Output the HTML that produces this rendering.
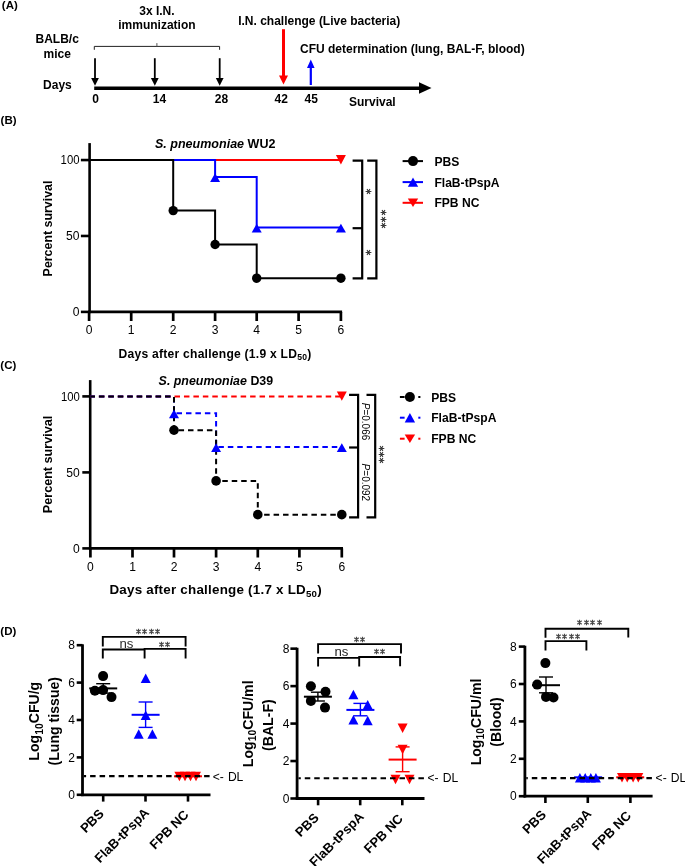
<!DOCTYPE html><html><head><meta charset="utf-8"><style>
html,body{margin:0;padding:0;background:#fff;overflow:hidden;}
svg{display:block;font-family:"Liberation Sans", sans-serif;will-change:transform;}
</style></head><body>
<svg width="685" height="866" viewBox="0 0 685 866">
<rect width="685" height="866" fill="#fff"/>
<text x="1.80" y="8.80" font-size="11.5" font-weight="bold" text-anchor="start" fill="#000000" >(A)</text>
<text x="57.20" y="43.00" font-size="12" font-weight="bold" text-anchor="middle" fill="#000000" >BALB/c</text>
<text x="57.20" y="57.70" font-size="12" font-weight="bold" text-anchor="middle" fill="#000000" >mice</text>
<text x="57.40" y="89.30" font-size="12" font-weight="bold" text-anchor="middle" fill="#000000" >Days</text>
<text x="156.90" y="14.50" font-size="12" font-weight="bold" text-anchor="middle" fill="#000000" >3x I.N.</text>
<text x="156.90" y="28.50" font-size="12" font-weight="bold" text-anchor="middle" fill="#000000" >immunization</text>
<polyline points="94.30,49.80 94.30,46.40 219.60,46.40 219.60,49.80" fill="none" stroke="#222" stroke-width="1.0" />
<line x1="156.90" y1="46.40" x2="156.90" y2="43.10" stroke="#555" stroke-width="1.0" />
<line x1="95.00" y1="58.20" x2="95.00" y2="78.50" stroke="#000000" stroke-width="1.8" />
<polygon points="91.10,78.00 98.90,78.00 95.00,85.80" fill="#000000"/>
<line x1="154.80" y1="58.20" x2="154.80" y2="78.50" stroke="#000000" stroke-width="1.8" />
<polygon points="150.90,78.00 158.70,78.00 154.80,85.80" fill="#000000"/>
<line x1="219.70" y1="58.20" x2="219.70" y2="78.50" stroke="#000000" stroke-width="1.8" />
<polygon points="215.80,78.00 223.60,78.00 219.70,85.80" fill="#000000"/>
<line x1="94.20" y1="88.30" x2="420.00" y2="88.30" stroke="#000000" stroke-width="3.5" />
<polygon points="419,82.2 431.5,88 419,93.8" fill="#000"/>
<line x1="283.50" y1="29.20" x2="283.50" y2="76.10" stroke="#ff0000" stroke-width="3" />
<polygon points="279.00,75.60 288.00,75.60 283.50,84.60" fill="#ff0000"/>
<line x1="310.80" y1="85.00" x2="310.80" y2="67.50" stroke="#0000ff" stroke-width="2.2" />
<polygon points="307.00,68.00 314.60,68.00 310.80,59.40" fill="#0000ff"/>
<text x="238.20" y="25.20" font-size="12" font-weight="bold" text-anchor="start" fill="#000000" >I.N. challenge (Live bacteria)</text>
<text x="300.00" y="52.60" font-size="12" font-weight="bold" text-anchor="start" fill="#000000" >CFU determination (lung, BAL-F, blood)</text>
<text x="95.70" y="102.80" font-size="12" font-weight="bold" text-anchor="middle" fill="#000000" >0</text>
<text x="159.50" y="102.80" font-size="12" font-weight="bold" text-anchor="middle" fill="#000000" >14</text>
<text x="221.50" y="102.80" font-size="12" font-weight="bold" text-anchor="middle" fill="#000000" >28</text>
<text x="281.20" y="102.80" font-size="12" font-weight="bold" text-anchor="middle" fill="#000000" >42</text>
<text x="311.20" y="102.80" font-size="12" font-weight="bold" text-anchor="middle" fill="#000000" >45</text>
<text x="349.00" y="105.60" font-size="12" font-weight="bold" text-anchor="start" fill="#000000" >Survival</text>
<text x="0.60" y="123.80" font-size="11.5" font-weight="bold" text-anchor="start" fill="#000000" >(B)</text>
<line x1="89.60" y1="143.10" x2="89.60" y2="313.20" stroke="#000000" stroke-width="2.6" />
<line x1="88.30" y1="311.90" x2="342.10" y2="311.90" stroke="#000000" stroke-width="2.6" />
<line x1="80.90" y1="311.90" x2="89.60" y2="311.90" stroke="#000000" stroke-width="2.6" />
<text x="79.50" y="316.20" font-size="12.1" font-weight="normal" text-anchor="end" fill="#000000" >0</text>
<line x1="80.90" y1="235.97" x2="89.60" y2="235.97" stroke="#000000" stroke-width="2.6" />
<text x="79.50" y="240.27" font-size="12.1" font-weight="normal" text-anchor="end" fill="#000000" >50</text>
<line x1="80.90" y1="160.05" x2="89.60" y2="160.05" stroke="#000000" stroke-width="2.6" />
<text x="79.50" y="164.35" font-size="12.1" font-weight="normal" text-anchor="end" fill="#000000" textLength="18.9" lengthAdjust="spacingAndGlyphs" >100</text>
<line x1="89.10" y1="311.90" x2="89.10" y2="321.00" stroke="#000000" stroke-width="2.7" />
<text x="89.10" y="334.00" font-size="12.1" font-weight="normal" text-anchor="middle" fill="#000000" >0</text>
<line x1="131.20" y1="311.90" x2="131.20" y2="321.00" stroke="#000000" stroke-width="2.7" />
<text x="131.20" y="334.00" font-size="12.1" font-weight="normal" text-anchor="middle" fill="#000000" >1</text>
<line x1="173.20" y1="311.90" x2="173.20" y2="321.00" stroke="#000000" stroke-width="2.7" />
<text x="173.20" y="334.00" font-size="12.1" font-weight="normal" text-anchor="middle" fill="#000000" >2</text>
<line x1="215.10" y1="311.90" x2="215.10" y2="321.00" stroke="#000000" stroke-width="2.7" />
<text x="215.10" y="334.00" font-size="12.1" font-weight="normal" text-anchor="middle" fill="#000000" >3</text>
<line x1="256.70" y1="311.90" x2="256.70" y2="321.00" stroke="#000000" stroke-width="2.7" />
<text x="256.70" y="334.00" font-size="12.1" font-weight="normal" text-anchor="middle" fill="#000000" >4</text>
<line x1="298.60" y1="311.90" x2="298.60" y2="321.00" stroke="#000000" stroke-width="2.7" />
<text x="298.60" y="334.00" font-size="12.1" font-weight="normal" text-anchor="middle" fill="#000000" >5</text>
<line x1="340.90" y1="311.90" x2="340.90" y2="321.00" stroke="#000000" stroke-width="2.7" />
<text x="340.90" y="334.00" font-size="12.1" font-weight="normal" text-anchor="middle" fill="#000000" >6</text>
<polyline points="89.10,160.05 340.90,160.05" fill="none" stroke="#ff0000" stroke-width="2" />
<polyline points="89.10,160.05 215.10,160.05 215.10,176.91 256.70,176.91 256.70,227.47 340.90,227.47" fill="none" stroke="#0000ff" stroke-width="2" />
<polyline points="89.10,160.05 173.20,160.05 173.20,210.62 215.10,210.62 215.10,244.48 256.70,244.48 256.70,278.19 340.90,278.19" fill="none" stroke="#000000" stroke-width="2" />
<polygon points="215.10,173.21 210.10,182.01 220.10,182.01" fill="#0000ff"/>
<polygon points="256.70,223.77 251.70,232.57 261.70,232.57" fill="#0000ff"/>
<polygon points="340.90,223.77 335.90,232.57 345.90,232.57" fill="#0000ff"/>
<circle cx="173.20" cy="210.62" r="4.7" fill="#000000"/>
<circle cx="215.10" cy="244.48" r="4.7" fill="#000000"/>
<circle cx="256.70" cy="278.19" r="4.7" fill="#000000"/>
<circle cx="340.90" cy="278.19" r="4.7" fill="#000000"/>
<polygon points="340.90,164.45 335.90,155.05 345.90,155.05" fill="#ff0000"/>
<text x="51.50" y="228.50" font-size="12.4" font-weight="bold" text-anchor="middle" fill="#000000" transform="rotate(-90 51.50 228.50)" >Percent survival</text>
<text x="155" y="148.1" font-size="12.5" font-weight="bold" textLength="120.4" lengthAdjust="spacingAndGlyphs"><tspan font-style="italic">S. pneumoniae</tspan> WU2</text>
<text x="118.6" y="357.5" font-size="12.1" font-weight="bold" textLength="192.6" lengthAdjust="spacing">Days after challenge (1.9 x LD<tspan font-size="8.6" dy="2.4">50</tspan><tspan dy="-2.4">)</tspan></text>
<polyline points="352.60,160.60 362.20,160.60 362.20,278.40 352.60,278.40" fill="none" stroke="#000000" stroke-width="2.2" />
<line x1="352.60" y1="228.20" x2="362.20" y2="228.20" stroke="#000000" stroke-width="2.2" />
<polyline points="367.20,160.60 376.40,160.60 376.40,278.40 367.20,278.40" fill="none" stroke="#000000" stroke-width="2.2" />
<path d="M365.60,191.50L371.40,191.50M367.05,188.99L369.95,194.01M369.95,188.99L367.05,194.01" stroke="#3a3a3a" stroke-width="1.15" fill="none"/>
<path d="M365.60,252.50L371.40,252.50M367.05,249.99L369.95,255.01M369.95,249.99L367.05,255.01" stroke="#3a3a3a" stroke-width="1.15" fill="none"/>
<path d="M380.60,212.50L386.40,212.50M382.05,209.99L384.95,215.01M384.95,209.99L382.05,215.01" stroke="#3a3a3a" stroke-width="1.15" fill="none"/>
<path d="M380.60,219.50L386.40,219.50M382.05,216.99L384.95,222.01M384.95,216.99L382.05,222.01" stroke="#3a3a3a" stroke-width="1.15" fill="none"/>
<path d="M380.60,225.50L386.40,225.50M382.05,222.99L384.95,228.01M384.95,222.99L382.05,228.01" stroke="#3a3a3a" stroke-width="1.15" fill="none"/>
<line x1="402.60" y1="161.10" x2="423.00" y2="161.10" stroke="#000000" stroke-width="2" />
<circle cx="413.00" cy="161.10" r="5.0" fill="#000000"/>
<text x="434.40" y="165.60" font-size="12.1" font-weight="bold" text-anchor="start" fill="#000000" >PBS</text>
<line x1="402.60" y1="182.10" x2="423.00" y2="182.10" stroke="#0000ff" stroke-width="2" />
<polygon points="413.00,177.40 407.80,186.80 418.20,186.80" fill="#0000ff"/>
<text x="434.40" y="186.60" font-size="12.1" font-weight="bold" text-anchor="start" fill="#000000" >FlaB-tPspA</text>
<line x1="402.60" y1="202.80" x2="423.00" y2="202.80" stroke="#ff0000" stroke-width="2" />
<polygon points="413.00,207.10 407.80,198.50 418.20,198.50" fill="#ff0000"/>
<text x="434.40" y="207.30" font-size="12.1" font-weight="bold" text-anchor="start" fill="#000000" >FPB NC</text>
<text x="0.30" y="369.40" font-size="11.5" font-weight="bold" text-anchor="start" fill="#000000" >(C)</text>
<line x1="90.20" y1="380.10" x2="90.20" y2="549.70" stroke="#000000" stroke-width="2.6" />
<line x1="88.90" y1="548.40" x2="343.00" y2="548.40" stroke="#000000" stroke-width="2.6" />
<line x1="82.30" y1="548.40" x2="90.20" y2="548.40" stroke="#000000" stroke-width="2.6" />
<text x="79.80" y="552.70" font-size="12.1" font-weight="normal" text-anchor="end" fill="#000000" >0</text>
<line x1="82.30" y1="472.40" x2="90.20" y2="472.40" stroke="#000000" stroke-width="2.6" />
<text x="79.80" y="476.70" font-size="12.1" font-weight="normal" text-anchor="end" fill="#000000" >50</text>
<line x1="82.30" y1="396.40" x2="90.20" y2="396.40" stroke="#000000" stroke-width="2.6" />
<text x="79.80" y="400.70" font-size="12.1" font-weight="normal" text-anchor="end" fill="#000000" textLength="18.9" lengthAdjust="spacingAndGlyphs" >100</text>
<line x1="90.40" y1="548.40" x2="90.40" y2="557.50" stroke="#000000" stroke-width="2.7" />
<text x="90.40" y="570.80" font-size="12.1" font-weight="normal" text-anchor="middle" fill="#000000" >0</text>
<line x1="132.50" y1="548.40" x2="132.50" y2="557.50" stroke="#000000" stroke-width="2.7" />
<text x="132.50" y="570.80" font-size="12.1" font-weight="normal" text-anchor="middle" fill="#000000" >1</text>
<line x1="174.00" y1="548.40" x2="174.00" y2="557.50" stroke="#000000" stroke-width="2.7" />
<text x="174.00" y="570.80" font-size="12.1" font-weight="normal" text-anchor="middle" fill="#000000" >2</text>
<line x1="216.10" y1="548.40" x2="216.10" y2="557.50" stroke="#000000" stroke-width="2.7" />
<text x="216.10" y="570.80" font-size="12.1" font-weight="normal" text-anchor="middle" fill="#000000" >3</text>
<line x1="257.80" y1="548.40" x2="257.80" y2="557.50" stroke="#000000" stroke-width="2.7" />
<text x="257.80" y="570.80" font-size="12.1" font-weight="normal" text-anchor="middle" fill="#000000" >4</text>
<line x1="299.40" y1="548.40" x2="299.40" y2="557.50" stroke="#000000" stroke-width="2.7" />
<text x="299.40" y="570.80" font-size="12.1" font-weight="normal" text-anchor="middle" fill="#000000" >5</text>
<line x1="341.80" y1="548.40" x2="341.80" y2="557.50" stroke="#000000" stroke-width="2.7" />
<text x="341.80" y="570.80" font-size="12.1" font-weight="normal" text-anchor="middle" fill="#000000" >6</text>
<polyline points="90.40,396.40 341.80,396.40" fill="none" stroke="#ff0000" stroke-width="2" stroke-dasharray="5.5 3.95" stroke-dashoffset="0.95"/>
<polyline points="90.40,396.40 174.00,396.40 174.00,413.27 216.10,413.27 216.10,447.02 341.80,447.02" fill="none" stroke="#0000ff" stroke-width="2" stroke-dasharray="5.5 3.95" stroke-dashoffset="0.95"/>
<polyline points="90.40,396.40 174.00,396.40 174.00,430.14 216.10,430.14 216.10,480.91 257.80,480.91 257.80,514.66 341.80,514.66" fill="none" stroke="#000000" stroke-width="2" stroke-dasharray="5.5 3.95" stroke-dashoffset="0.95"/>
<polygon points="174.00,409.57 169.00,418.37 179.00,418.37" fill="#0000ff"/>
<polygon points="216.10,443.32 211.10,452.12 221.10,452.12" fill="#0000ff"/>
<polygon points="341.80,443.32 336.80,452.12 346.80,452.12" fill="#0000ff"/>
<circle cx="174.00" cy="430.14" r="4.8" fill="#000000"/>
<circle cx="216.10" cy="480.91" r="4.8" fill="#000000"/>
<circle cx="257.80" cy="514.66" r="4.8" fill="#000000"/>
<circle cx="341.80" cy="514.66" r="4.8" fill="#000000"/>
<polygon points="341.80,400.80 336.80,391.40 346.80,391.40" fill="#ff0000"/>
<text x="52.30" y="464.50" font-size="12.6" font-weight="bold" text-anchor="middle" fill="#000000" transform="rotate(-90 52.30 464.50)" >Percent survival</text>
<text x="158.6" y="385.2" font-size="12.3" font-weight="bold" textLength="114.6" lengthAdjust="spacingAndGlyphs"><tspan font-style="italic">S. pneumoniae</tspan> D39</text>
<text x="109.4" y="594.3" font-size="13.4" font-weight="bold" textLength="212.2" lengthAdjust="spacing">Days after challenge (1.7 x LD<tspan font-size="9.7" dy="2.8">50</tspan><tspan dy="-2.8">)</tspan></text>
<polyline points="349.10,394.90 358.10,394.90 358.10,517.30 349.10,517.30" fill="none" stroke="#000000" stroke-width="2.2" />
<line x1="349.10" y1="447.50" x2="358.10" y2="447.50" stroke="#000000" stroke-width="2.2" />
<polyline points="366.50,394.90 375.20,394.90 375.20,517.30 366.50,517.30" fill="none" stroke="#000000" stroke-width="2.2" />
<text x="361.9" y="421.5" font-size="11.2" text-anchor="middle" textLength="37.5" lengthAdjust="spacingAndGlyphs" transform="rotate(90 361.9 421.5)"><tspan font-style="italic">P</tspan>=0.066</text>
<text x="361.9" y="482.4" font-size="11.2" text-anchor="middle" textLength="37.6" lengthAdjust="spacingAndGlyphs" transform="rotate(90 361.9 482.4)"><tspan font-style="italic">P</tspan>=0.092</text>
<path d="M378.70,448.50L384.30,448.50M380.10,446.08L382.90,450.92M382.90,446.08L380.10,450.92" stroke="#3a3a3a" stroke-width="1.1" fill="none"/>
<path d="M378.70,454.50L384.30,454.50M380.10,452.08L382.90,456.92M382.90,452.08L380.10,456.92" stroke="#3a3a3a" stroke-width="1.1" fill="none"/>
<path d="M378.70,460.50L384.30,460.50M380.10,458.08L382.90,462.92M382.90,458.08L380.10,462.92" stroke="#3a3a3a" stroke-width="1.1" fill="none"/>
<line x1="399.90" y1="397.00" x2="404.60" y2="397.00" stroke="#000000" stroke-width="2" />
<line x1="418.30" y1="397.00" x2="420.40" y2="397.00" stroke="#000000" stroke-width="2" />
<circle cx="409.90" cy="397.00" r="5.0" fill="#000000"/>
<text x="431.20" y="401.50" font-size="12.1" font-weight="bold" text-anchor="start" fill="#000000" >PBS</text>
<line x1="399.90" y1="417.70" x2="404.60" y2="417.70" stroke="#0000ff" stroke-width="2" />
<line x1="418.30" y1="417.70" x2="420.40" y2="417.70" stroke="#0000ff" stroke-width="2" />
<polygon points="409.90,413.00 404.70,422.40 415.10,422.40" fill="#0000ff"/>
<text x="431.20" y="422.20" font-size="12.1" font-weight="bold" text-anchor="start" fill="#000000" >FlaB-tPspA</text>
<line x1="399.90" y1="438.70" x2="404.60" y2="438.70" stroke="#ff0000" stroke-width="2" />
<line x1="418.30" y1="438.70" x2="420.40" y2="438.70" stroke="#ff0000" stroke-width="2" />
<polygon points="409.90,443.00 404.70,434.40 415.10,434.40" fill="#ff0000"/>
<text x="431.20" y="443.20" font-size="12.1" font-weight="bold" text-anchor="start" fill="#000000" >FPB NC</text>
<text x="0.30" y="635.00" font-size="11.5" font-weight="bold" text-anchor="start" fill="#000000" >(D)</text>
<line x1="82.50" y1="644.30" x2="82.50" y2="796.10" stroke="#000000" stroke-width="2.8" />
<line x1="81.20" y1="794.80" x2="210.50" y2="794.80" stroke="#000000" stroke-width="2.8" />
<line x1="76.70" y1="794.80" x2="82.50" y2="794.80" stroke="#000000" stroke-width="2.6" />
<text x="75.00" y="799.00" font-size="12.0" font-weight="normal" text-anchor="end" fill="#000000" >0</text>
<line x1="76.70" y1="757.40" x2="82.50" y2="757.40" stroke="#000000" stroke-width="2.6" />
<text x="75.00" y="761.60" font-size="12.0" font-weight="normal" text-anchor="end" fill="#000000" >2</text>
<line x1="76.70" y1="720.00" x2="82.50" y2="720.00" stroke="#000000" stroke-width="2.6" />
<text x="75.00" y="724.20" font-size="12.0" font-weight="normal" text-anchor="end" fill="#000000" >4</text>
<line x1="76.70" y1="682.60" x2="82.50" y2="682.60" stroke="#000000" stroke-width="2.6" />
<text x="75.00" y="686.80" font-size="12.0" font-weight="normal" text-anchor="end" fill="#000000" >6</text>
<line x1="76.70" y1="645.20" x2="82.50" y2="645.20" stroke="#000000" stroke-width="2.6" />
<text x="75.00" y="649.40" font-size="12.0" font-weight="normal" text-anchor="end" fill="#000000" >8</text>
<line x1="103.20" y1="794.80" x2="103.20" y2="801.60" stroke="#000000" stroke-width="2.6" />
<line x1="145.50" y1="794.80" x2="145.50" y2="801.60" stroke="#000000" stroke-width="2.6" />
<line x1="188.00" y1="794.80" x2="188.00" y2="801.60" stroke="#000000" stroke-width="2.6" />
<circle cx="103.10" cy="676.10" r="5.0" fill="#000000"/>
<circle cx="94.90" cy="690.70" r="5.0" fill="#000000"/>
<circle cx="103.10" cy="690.10" r="5.0" fill="#000000"/>
<circle cx="111.50" cy="697.10" r="5.0" fill="#000000"/>
<line x1="89.20" y1="688.40" x2="117.20" y2="688.40" stroke="#000000" stroke-width="2" />
<line x1="103.20" y1="683.70" x2="103.20" y2="693.10" stroke="#000000" stroke-width="1.4" />
<line x1="96.20" y1="683.70" x2="110.20" y2="683.70" stroke="#000000" stroke-width="1.4" />
<line x1="96.20" y1="693.10" x2="110.20" y2="693.10" stroke="#000000" stroke-width="1.4" />
<polygon points="145.70,673.55 140.70,683.05 150.70,683.05" fill="#0000ff"/>
<polygon points="145.70,710.45 140.70,719.95 150.70,719.95" fill="#0000ff"/>
<polygon points="138.70,729.15 133.70,738.65 143.70,738.65" fill="#0000ff"/>
<polygon points="152.40,729.15 147.40,738.65 157.40,738.65" fill="#0000ff"/>
<line x1="131.60" y1="714.80" x2="159.60" y2="714.80" stroke="#0000ff" stroke-width="2" />
<line x1="145.60" y1="702.00" x2="145.60" y2="727.40" stroke="#0000ff" stroke-width="1.4" />
<line x1="138.60" y1="702.00" x2="152.60" y2="702.00" stroke="#0000ff" stroke-width="1.4" />
<line x1="138.60" y1="727.40" x2="152.60" y2="727.40" stroke="#0000ff" stroke-width="1.4" />
<polygon points="179.40,781.25 174.40,771.75 184.40,771.75" fill="#ff0000"/>
<polygon points="185.00,781.25 180.00,771.75 190.00,771.75" fill="#ff0000"/>
<polygon points="190.50,781.25 185.50,771.75 195.50,771.75" fill="#ff0000"/>
<polygon points="196.00,781.25 191.00,771.75 201.00,771.75" fill="#ff0000"/>
<line x1="174.00" y1="776.30" x2="202.00" y2="776.30" stroke="#ff0000" stroke-width="2" />
<line x1="83.90" y1="776.10" x2="210.00" y2="776.10" stroke="#000000" stroke-width="2.1" stroke-dasharray="5.5 4" stroke-dashoffset="3.3"/>
<text x="212.70" y="781.10" font-size="12.1">&lt;-<tspan x="227.90">DL</tspan></text>
<text x="104.70" y="814.50" font-size="13.1" font-weight="bold" text-anchor="end" fill="#000000" transform="rotate(-45 104.70 814.50)" >PBS</text>
<text x="150.00" y="813.50" font-size="13.1" font-weight="bold" text-anchor="end" fill="#000000" transform="rotate(-45 150.00 813.50)" >FlaB-tPspA</text>
<text x="189.50" y="815.50" font-size="13.1" font-weight="bold" text-anchor="end" fill="#000000" transform="rotate(-45 189.50 815.50)" >FPB NC</text>
<text x="39.4" y="721.2" font-size="14.1" font-weight="bold" text-anchor="middle" transform="rotate(-90 39.4 721.2)">Log<tspan font-size="10.4" dy="3.5">10</tspan><tspan dy="-3.5">CFU/g</tspan></text>
<text x="58.8" y="721.2" font-size="14.1" font-weight="bold" text-anchor="middle" transform="rotate(-90 58.8 721.2)">(Lung tissue)</text>
<polyline points="102.80,646.50 102.80,636.90 185.60,636.90 185.60,646.50" fill="none" stroke="#000000" stroke-width="1.9" />
<polyline points="102.80,658.50 102.80,649.50 144.60,649.50" fill="none" stroke="#000000" stroke-width="1.9" />
<polyline points="144.60,658.50 144.60,648.90 185.60,648.90 185.60,658.50" fill="none" stroke="#000000" stroke-width="1.9" />
<path d="M138.50,628.70L138.50,634.30M136.29,629.78L140.71,633.22M140.71,629.78L136.29,633.22" stroke="#484848" stroke-width="1.1" fill="none"/>
<path d="M144.50,628.70L144.50,634.30M142.29,629.78L146.71,633.22M146.71,629.78L142.29,633.22" stroke="#484848" stroke-width="1.1" fill="none"/>
<path d="M151.50,628.70L151.50,634.30M149.29,629.78L153.71,633.22M153.71,629.78L149.29,633.22" stroke="#484848" stroke-width="1.1" fill="none"/>
<path d="M157.50,628.70L157.50,634.30M155.29,629.78L159.71,633.22M159.71,629.78L155.29,633.22" stroke="#484848" stroke-width="1.1" fill="none"/>
<text x="126.40" y="648.00" font-size="13.2" font-weight="normal" text-anchor="middle" fill="#2a2a2a" >ns</text>
<path d="M161.50,641.70L161.50,647.30M159.29,642.78L163.71,646.22M163.71,642.78L159.29,646.22" stroke="#484848" stroke-width="1.1" fill="none"/>
<path d="M167.50,641.70L167.50,647.30M165.29,642.78L169.71,646.22M169.71,642.78L165.29,646.22" stroke="#484848" stroke-width="1.1" fill="none"/>
<line x1="297.10" y1="647.76" x2="297.10" y2="799.80" stroke="#000000" stroke-width="2.8" />
<line x1="295.80" y1="798.50" x2="424.50" y2="798.50" stroke="#000000" stroke-width="2.8" />
<line x1="290.40" y1="798.50" x2="297.10" y2="798.50" stroke="#000000" stroke-width="2.6" />
<text x="289.50" y="802.70" font-size="12.0" font-weight="normal" text-anchor="end" fill="#000000" >0</text>
<line x1="290.40" y1="761.04" x2="297.10" y2="761.04" stroke="#000000" stroke-width="2.6" />
<text x="289.50" y="765.24" font-size="12.0" font-weight="normal" text-anchor="end" fill="#000000" >2</text>
<line x1="290.40" y1="723.58" x2="297.10" y2="723.58" stroke="#000000" stroke-width="2.6" />
<text x="289.50" y="727.78" font-size="12.0" font-weight="normal" text-anchor="end" fill="#000000" >4</text>
<line x1="290.40" y1="686.12" x2="297.10" y2="686.12" stroke="#000000" stroke-width="2.6" />
<text x="289.50" y="690.32" font-size="12.0" font-weight="normal" text-anchor="end" fill="#000000" >6</text>
<line x1="290.40" y1="648.66" x2="297.10" y2="648.66" stroke="#000000" stroke-width="2.6" />
<text x="289.50" y="652.86" font-size="12.0" font-weight="normal" text-anchor="end" fill="#000000" >8</text>
<line x1="318.10" y1="798.50" x2="318.10" y2="805.30" stroke="#000000" stroke-width="2.6" />
<line x1="360.20" y1="798.50" x2="360.20" y2="805.30" stroke="#000000" stroke-width="2.6" />
<line x1="402.30" y1="798.50" x2="402.30" y2="805.30" stroke="#000000" stroke-width="2.6" />
<circle cx="310.90" cy="686.20" r="5.0" fill="#000000"/>
<circle cx="325.50" cy="691.80" r="5.0" fill="#000000"/>
<circle cx="310.90" cy="700.90" r="5.0" fill="#000000"/>
<circle cx="325.00" cy="707.60" r="5.0" fill="#000000"/>
<line x1="303.90" y1="696.70" x2="331.90" y2="696.70" stroke="#000000" stroke-width="2" />
<line x1="317.90" y1="692.20" x2="317.90" y2="701.00" stroke="#000000" stroke-width="1.4" />
<line x1="310.90" y1="692.20" x2="324.90" y2="692.20" stroke="#000000" stroke-width="1.4" />
<line x1="310.90" y1="701.00" x2="324.90" y2="701.00" stroke="#000000" stroke-width="1.4" />
<polygon points="353.40,689.75 348.40,699.25 358.40,699.25" fill="#0000ff"/>
<polygon points="367.70,699.95 362.70,709.45 372.70,709.45" fill="#0000ff"/>
<polygon points="353.40,715.05 348.40,724.55 358.40,724.55" fill="#0000ff"/>
<polygon points="367.70,715.85 362.70,725.35 372.70,725.35" fill="#0000ff"/>
<line x1="346.40" y1="709.90" x2="374.40" y2="709.90" stroke="#0000ff" stroke-width="2" />
<line x1="360.40" y1="703.40" x2="360.40" y2="715.80" stroke="#0000ff" stroke-width="1.4" />
<line x1="353.40" y1="703.40" x2="367.40" y2="703.40" stroke="#0000ff" stroke-width="1.4" />
<line x1="353.40" y1="715.80" x2="367.40" y2="715.80" stroke="#0000ff" stroke-width="1.4" />
<polygon points="402.60,733.05 397.60,723.55 407.60,723.55" fill="#ff0000"/>
<polygon points="402.60,754.25 397.60,744.75 407.60,744.75" fill="#ff0000"/>
<polygon points="395.50,784.25 390.50,774.75 400.50,774.75" fill="#ff0000"/>
<polygon points="409.50,784.25 404.50,774.75 414.50,774.75" fill="#ff0000"/>
<line x1="388.60" y1="759.60" x2="416.60" y2="759.60" stroke="#ff0000" stroke-width="2" />
<line x1="402.60" y1="746.90" x2="402.60" y2="771.70" stroke="#ff0000" stroke-width="1.4" />
<line x1="395.60" y1="746.90" x2="409.60" y2="746.90" stroke="#ff0000" stroke-width="1.4" />
<line x1="395.60" y1="771.70" x2="409.60" y2="771.70" stroke="#ff0000" stroke-width="1.4" />
<line x1="298.50" y1="778.30" x2="424.00" y2="778.30" stroke="#000000" stroke-width="2.1" stroke-dasharray="5.5 3.97" stroke-dashoffset="3.2"/>
<text x="427.50" y="782.20" font-size="12.1">&lt;-<tspan x="442.70">DL</tspan></text>
<text x="319.60" y="818.50" font-size="13.1" font-weight="bold" text-anchor="end" fill="#000000" transform="rotate(-45 319.60 818.50)" >PBS</text>
<text x="364.70" y="817.50" font-size="13.1" font-weight="bold" text-anchor="end" fill="#000000" transform="rotate(-45 364.70 817.50)" >FlaB-tPspA</text>
<text x="403.80" y="819.50" font-size="13.1" font-weight="bold" text-anchor="end" fill="#000000" transform="rotate(-45 403.80 819.50)" >FPB NC</text>
<text x="253.0" y="723.8" font-size="14.1" font-weight="bold" text-anchor="middle" transform="rotate(-90 253.0 723.8)">Log<tspan font-size="10.4" dy="3.5">10</tspan><tspan dy="-3.5">CFU/ml</tspan></text>
<text x="273.4" y="725.1" font-size="14.1" font-weight="bold" text-anchor="middle" transform="rotate(-90 273.4 725.1)">(BAL-F)</text>
<polyline points="318.10,653.60 318.10,644.10 401.00,644.10 401.00,653.60" fill="none" stroke="#000000" stroke-width="1.9" />
<polyline points="318.10,666.60 318.10,657.90 359.20,657.90" fill="none" stroke="#000000" stroke-width="1.9" />
<polyline points="359.20,666.60 359.20,657.00 400.10,657.00 400.10,666.20" fill="none" stroke="#000000" stroke-width="1.9" />
<path d="M356.50,636.70L356.50,642.30M354.29,637.78L358.71,641.22M358.71,637.78L354.29,641.22" stroke="#484848" stroke-width="1.1" fill="none"/>
<path d="M362.50,636.70L362.50,642.30M360.29,637.78L364.71,641.22M364.71,637.78L360.29,641.22" stroke="#484848" stroke-width="1.1" fill="none"/>
<text x="341.40" y="655.90" font-size="13.2" font-weight="normal" text-anchor="middle" fill="#222" >ns</text>
<path d="M376.50,648.70L376.50,654.30M374.29,649.78L378.71,653.22M378.71,649.78L374.29,653.22" stroke="#484848" stroke-width="1.1" fill="none"/>
<path d="M382.50,648.70L382.50,654.30M380.29,649.78L384.71,653.22M384.71,649.78L380.29,653.22" stroke="#484848" stroke-width="1.1" fill="none"/>
<line x1="524.90" y1="645.70" x2="524.90" y2="797.50" stroke="#000000" stroke-width="2.8" />
<line x1="523.60" y1="796.20" x2="652.60" y2="796.20" stroke="#000000" stroke-width="2.8" />
<line x1="518.80" y1="796.20" x2="524.90" y2="796.20" stroke="#000000" stroke-width="2.6" />
<text x="516.60" y="800.40" font-size="12.0" font-weight="normal" text-anchor="end" fill="#000000" >0</text>
<line x1="518.80" y1="758.80" x2="524.90" y2="758.80" stroke="#000000" stroke-width="2.6" />
<text x="516.60" y="763.00" font-size="12.0" font-weight="normal" text-anchor="end" fill="#000000" >2</text>
<line x1="518.80" y1="721.40" x2="524.90" y2="721.40" stroke="#000000" stroke-width="2.6" />
<text x="516.60" y="725.60" font-size="12.0" font-weight="normal" text-anchor="end" fill="#000000" >4</text>
<line x1="518.80" y1="684.00" x2="524.90" y2="684.00" stroke="#000000" stroke-width="2.6" />
<text x="516.60" y="688.20" font-size="12.0" font-weight="normal" text-anchor="end" fill="#000000" >6</text>
<line x1="518.80" y1="646.60" x2="524.90" y2="646.60" stroke="#000000" stroke-width="2.6" />
<text x="516.60" y="650.80" font-size="12.0" font-weight="normal" text-anchor="end" fill="#000000" >8</text>
<line x1="545.40" y1="796.20" x2="545.40" y2="803.00" stroke="#000000" stroke-width="2.6" />
<line x1="587.80" y1="796.20" x2="587.80" y2="803.00" stroke="#000000" stroke-width="2.6" />
<line x1="630.40" y1="796.20" x2="630.40" y2="803.00" stroke="#000000" stroke-width="2.6" />
<circle cx="545.40" cy="663.10" r="5.0" fill="#000000"/>
<circle cx="537.20" cy="684.60" r="5.0" fill="#000000"/>
<circle cx="546.00" cy="696.90" r="5.0" fill="#000000"/>
<circle cx="553.50" cy="697.50" r="5.0" fill="#000000"/>
<line x1="532.00" y1="685.20" x2="560.00" y2="685.20" stroke="#000000" stroke-width="2" />
<line x1="546.00" y1="677.00" x2="546.00" y2="692.80" stroke="#000000" stroke-width="1.4" />
<line x1="539.00" y1="677.00" x2="553.00" y2="677.00" stroke="#000000" stroke-width="1.4" />
<line x1="539.00" y1="692.80" x2="553.00" y2="692.80" stroke="#000000" stroke-width="1.4" />
<polygon points="579.90,772.95 574.90,782.45 584.90,782.45" fill="#0000ff"/>
<polygon points="585.20,772.95 580.20,782.45 590.20,782.45" fill="#0000ff"/>
<polygon points="590.80,772.95 585.80,782.45 595.80,782.45" fill="#0000ff"/>
<polygon points="595.90,772.95 590.90,782.45 600.90,782.45" fill="#0000ff"/>
<line x1="574.10" y1="777.30" x2="602.10" y2="777.30" stroke="#0000ff" stroke-width="2" />
<polygon points="622.00,782.45 617.00,772.95 627.00,772.95" fill="#ff0000"/>
<polygon points="627.20,782.45 622.20,772.95 632.20,772.95" fill="#ff0000"/>
<polygon points="633.10,782.45 628.10,772.95 638.10,772.95" fill="#ff0000"/>
<polygon points="638.30,782.45 633.30,772.95 643.30,772.95" fill="#ff0000"/>
<line x1="616.20" y1="777.30" x2="644.20" y2="777.30" stroke="#ff0000" stroke-width="2" />
<line x1="526.30" y1="778.10" x2="652.10" y2="778.10" stroke="#000000" stroke-width="2.1" stroke-dasharray="5.5 4.05" stroke-dashoffset="4.05"/>
<text x="655.60" y="782.00" font-size="12.1">&lt;-<tspan x="670.80">DL</tspan></text>
<text x="546.90" y="815.50" font-size="13.1" font-weight="bold" text-anchor="end" fill="#000000" transform="rotate(-45 546.90 815.50)" >PBS</text>
<text x="592.30" y="814.50" font-size="13.1" font-weight="bold" text-anchor="end" fill="#000000" transform="rotate(-45 592.30 814.50)" >FlaB-tPspA</text>
<text x="631.90" y="816.50" font-size="13.1" font-weight="bold" text-anchor="end" fill="#000000" transform="rotate(-45 631.90 816.50)" >FPB NC</text>
<text x="480.6" y="722.0" font-size="14.1" font-weight="bold" text-anchor="middle" transform="rotate(-90 480.6 722.0)">Log<tspan font-size="10.4" dy="3.5">10</tspan><tspan dy="-3.5">CFU/ml</tspan></text>
<text x="500.9" y="722.0" font-size="14.1" font-weight="bold" text-anchor="middle" transform="rotate(-90 500.9 722.0)">(Blood)</text>
<polyline points="545.50,637.80 545.50,628.80 628.30,628.80 628.30,637.40" fill="none" stroke="#000000" stroke-width="1.9" />
<polyline points="545.50,650.60 545.50,641.10 586.40,641.10 586.40,650.60" fill="none" stroke="#000000" stroke-width="1.9" />
<path d="M579.50,619.70L579.50,625.30M577.29,620.78L581.71,624.22M581.71,620.78L577.29,624.22" stroke="#484848" stroke-width="1.1" fill="none"/>
<path d="M586.50,619.70L586.50,625.30M584.29,620.78L588.71,624.22M588.71,620.78L584.29,624.22" stroke="#484848" stroke-width="1.1" fill="none"/>
<path d="M592.50,619.70L592.50,625.30M590.29,620.78L594.71,624.22M594.71,620.78L590.29,624.22" stroke="#484848" stroke-width="1.1" fill="none"/>
<path d="M599.50,619.70L599.50,625.30M597.29,620.78L601.71,624.22M601.71,620.78L597.29,624.22" stroke="#484848" stroke-width="1.1" fill="none"/>
<path d="M558.50,633.70L558.50,639.30M556.29,634.78L560.71,638.22M560.71,634.78L556.29,638.22" stroke="#484848" stroke-width="1.1" fill="none"/>
<path d="M564.50,633.70L564.50,639.30M562.29,634.78L566.71,638.22M566.71,634.78L562.29,638.22" stroke="#484848" stroke-width="1.1" fill="none"/>
<path d="M571.50,633.70L571.50,639.30M569.29,634.78L573.71,638.22M573.71,634.78L569.29,638.22" stroke="#484848" stroke-width="1.1" fill="none"/>
<path d="M577.50,633.70L577.50,639.30M575.29,634.78L579.71,638.22M579.71,634.78L575.29,638.22" stroke="#484848" stroke-width="1.1" fill="none"/>
</svg></body></html>
